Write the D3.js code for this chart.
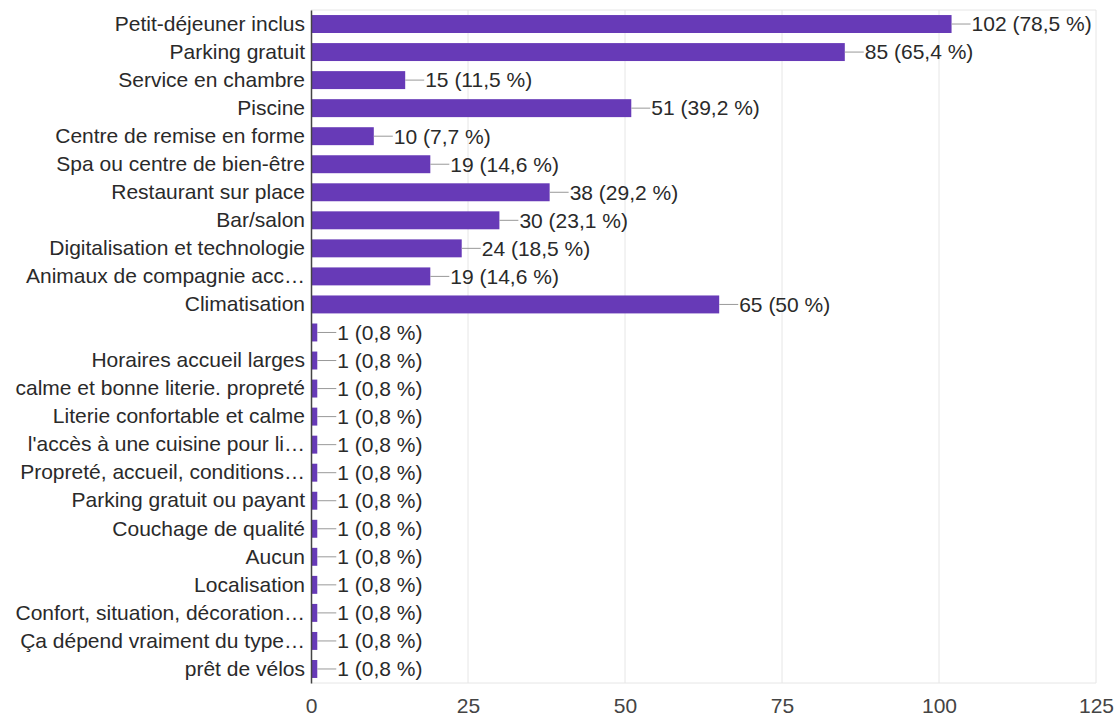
<!DOCTYPE html>
<html>
<head>
<meta charset="utf-8">
<script src="https://cdn.jsdelivr.net/npm/d3@7"></script>
<style>
  html, body { margin: 0; padding: 0; background: #fff; }
  svg { display: block; }
  text { font-family: "Liberation Sans", Arial, sans-serif; }
</style>
</head>
<body>
<svg id="chart" width="1117" height="719"></svg>
<script>
// Survey answers: amenity label, response count and share of respondents
const categories = [
  "Petit-déjeuner inclus",
  "Parking gratuit",
  "Service en chambre",
  "Piscine",
  "Centre de remise en forme",
  "Spa ou centre de bien-être",
  "Restaurant sur place",
  "Bar/salon",
  "Digitalisation et technologie",
  "Animaux de compagnie acc…",
  "Climatisation",
  "",
  "Horaires accueil larges",
  "calme et bonne literie. propreté",
  "Literie confortable et calme",
  "l'accès à une cuisine pour li…",
  "Propreté, accueil, conditions…",
  "Parking gratuit ou payant",
  "Couchage de qualité",
  "Aucun",
  "Localisation",
  "Confort, situation, décoration…",
  "Ça dépend vraiment du type…",
  "prêt de vélos"
];
const counts = [102, 85, 15, 51, 10, 19, 38, 30, 24, 19, 65, 1, 1, 1, 1, 1, 1, 1, 1, 1, 1, 1, 1, 1];
const percents = ["78,5", "65,4", "11,5", "39,2", "7,7", "14,6", "29,2", "23,1", "18,5", "14,6", "50",
  "0,8", "0,8", "0,8", "0,8", "0,8", "0,8", "0,8", "0,8", "0,8", "0,8", "0,8", "0,8", "0,8"];
const xTicks = [0, 25, 50, 75, 100, 125];

const rows = categories.map((c, i) => ({ key: i, label: c, count: counts[i], pct: percents[i] }));

const margin = { top: 10, right: 21, bottom: 36, left: 311 };
const width = 1117, height = 719;
const fontSize = 21;
const svg = d3.select("#chart");

const x = d3.scaleLinear().domain([0, 125]).range([margin.left, width - margin.right]);
const y = d3.scaleBand()
  .domain(rows.map(d => d.key))
  .range([margin.top, height - margin.bottom])
  .paddingInner(0.36)
  .paddingOuter(0.18);

// Vertical gridlines
svg.append("g")
  .selectAll("line")
  .data(xTicks.filter(t => t > 0))
  .join("line")
  .attr("x1", d => x(d)).attr("x2", d => x(d))
  .attr("y1", margin.top).attr("y2", height - margin.bottom)
  .attr("stroke", "#e6e6e6").attr("stroke-width", 1);

// Top and bottom frame lines
svg.append("g")
  .selectAll("line")
  .data([margin.top, height - margin.bottom])
  .join("line")
  .attr("x1", x(0)).attr("x2", x(125))
  .attr("y1", d => d).attr("y2", d => d)
  .attr("stroke", "#e6e6e6").attr("stroke-width", 1);

// Bars
svg.append("g")
  .selectAll("rect")
  .data(rows)
  .join("rect")
  .attr("x", x(0))
  .attr("y", d => y(d.key))
  .attr("width", d => x(d.count) - x(0))
  .attr("height", y.bandwidth())
  .attr("fill", "#673ab7");

// Leader lines and value labels
const labels = svg.append("g");
labels.selectAll("line")
  .data(rows)
  .join("line")
  .attr("x1", d => x(d.count))
  .attr("x2", d => x(d.count) + 19)
  .attr("y1", d => y(d.key) + y.bandwidth() / 2)
  .attr("y2", d => y(d.key) + y.bandwidth() / 2)
  .attr("stroke", "#999").attr("stroke-width", 1);
labels.selectAll("text")
  .data(rows)
  .join("text")
  .attr("x", d => x(d.count) + 20)
  .attr("y", d => y(d.key) + y.bandwidth() / 2)
  .attr("dy", "0.35em")
  .attr("font-size", fontSize)
  .attr("fill", "#2a2a2a")
  .text(d => `${d.count} (${d.pct} %)`);

// Category axis
const yAxis = svg.append("g")
  .attr("transform", `translate(${x(0)},0)`)
  .call(d3.axisLeft(y).tickSize(0).tickPadding(6).tickFormat(k => rows[k].label));
yAxis.select(".domain").attr("stroke", "#444").attr("stroke-width", 1.5);
yAxis.selectAll("text")
  .attr("font-size", fontSize)
  .attr("fill", "#2a2a2a")
  .style("font-family", "'Liberation Sans', Arial, sans-serif");

// Value axis
const xAxis = svg.append("g")
  .attr("transform", `translate(0,${height - margin.bottom})`)
  .call(d3.axisBottom(x).tickValues(xTicks).tickSize(0).tickPadding(15));
xAxis.select(".domain").remove();
xAxis.selectAll("text")
  .attr("font-size", fontSize)
  .attr("fill", "#444")
  .style("font-family", "'Liberation Sans', Arial, sans-serif");
</script>
</body>
</html>
